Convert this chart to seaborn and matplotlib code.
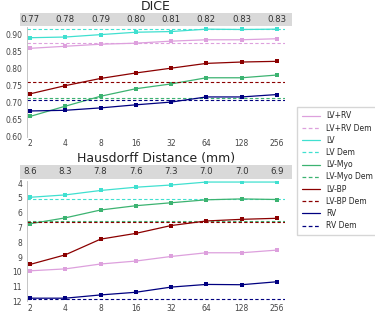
import numpy as np
import pandas as pd
import seaborn as sns
import matplotlib.pyplot as plt
from matplotlib.lines import Line2D
from matplotlib.transforms import blended_transform_factory

# Number of training subjects
n_train = [2, 4, 8, 16, 32, 64, 128, 256]
structures = ["LV+RV", "LV", "LV-Myo", "LV-BP", "RV"]
colors = {"LV+RV": "#dda0dd", "LV": "#40e0d0", "LV-Myo": "#3cb371",
          "LV-BP": "#8b0000", "RV": "#000080"}

# DICE per structure
dice = {
    "LV+RV": [0.859, 0.865, 0.871, 0.874, 0.880, 0.884, 0.884, 0.887],
    "LV": [0.890, 0.892, 0.899, 0.906, 0.908, 0.915, 0.914, 0.915],
    "LV-Myo": [0.660, 0.690, 0.719, 0.741, 0.755, 0.773, 0.773, 0.781],
    "LV-BP": [0.726, 0.750, 0.771, 0.787, 0.801, 0.815, 0.819, 0.821],
    "RV": [0.676, 0.678, 0.685, 0.694, 0.702, 0.717, 0.717, 0.724],
}
dice_dem = {"LV+RV": 0.876, "LV": 0.915, "LV-Myo": 0.715, "LV-BP": 0.762, "RV": 0.707}
dice_mean = ["0.77", "0.78", "0.79", "0.80", "0.81", "0.82", "0.83", "0.83"]

# Hausdorff distance (mm) per structure
hd = {
    "LV+RV": [9.93, 9.80, 9.47, 9.27, 8.96, 8.71, 8.71, 8.53],
    "LV": [4.96, 4.80, 4.50, 4.28, 4.13, 3.93, 3.93, 3.93],
    "LV-Myo": [6.75, 6.35, 5.82, 5.53, 5.33, 5.13, 5.07, 5.11],
    "LV-BP": [9.50, 8.85, 7.79, 7.40, 6.87, 6.56, 6.45, 6.38],
    "RV": [11.78, 11.78, 11.56, 11.38, 11.03, 10.85, 10.87, 10.67],
}
hd_dem = {"LV+RV": 12.5, "LV": 5.06, "LV-Myo": 6.57, "LV-BP": 6.60, "RV": 11.82}
hd_mean = ["8.6", "8.3", "7.8", "7.6", "7.3", "7.0", "7.0", "6.9"]

sns.set_style("white")
plt.rcParams["font.family"] = ["DejaVu Sans"]

fig = plt.figure(figsize=(3.75, 3.14), dpi=100)
dash = (0, (3, 2))


def panel(ax_rect, band_rect, values, dem, means, title, ylim, yticks, yfmt):
    ax = fig.add_axes(ax_rect)
    band = fig.add_axes(band_rect)
    for s in structures:
        df = pd.DataFrame({"n": n_train, "v": values[s]})
        sns.lineplot(data=df, x="n", y="v", ax=ax, color=colors[s], marker="s",
                     markersize=3.2, markeredgewidth=0, linewidth=0.9, legend=False)
        ax.axhline(dem[s], color=colors[s], ls=dash, lw=0.8)
    ax.set_xscale("log", base=2)
    ax.set_xlim(2 ** 0.915, 2 ** 8.23)
    ax.set_xticks(n_train)
    ax.set_xticklabels([str(n) for n in n_train])
    ax.set_ylim(*ylim)
    ax.set_yticks(yticks)
    ax.set_yticklabels([yfmt.format(t) for t in yticks])
    ax.tick_params(axis="both", labelsize=5.5, colors="#444444", length=0, pad=1.5)
    ax.tick_params(axis="y", length=2, color="#999999")
    ax.set_xlabel("")
    ax.set_ylabel("")
    for sp in ["top", "right", "bottom"]:
        ax.spines[sp].set_visible(False)
    ax.spines["left"].set_color("#bbbbbb")
    ax.spines["left"].set_linewidth(0.6)

    band.set_facecolor("#d9d9d9")
    band.set_xticks([])
    band.set_yticks([])
    for sp in band.spines.values():
        sp.set_visible(False)
    tr = blended_transform_factory(ax.transData, band.transAxes)
    for n, m in zip(n_train, means):
        band.text(n, 0.5, m, transform=tr, ha="center", va="center",
                  fontsize=6.2, color="#333333", clip_on=False)
    band.set_title(title, fontsize=9, pad=1.5, color="#222222")
    return ax


ax1 = panel([0.072, 0.5637, 0.688, 0.350], [0.053, 0.917, 0.725, 0.042],
            dice, dice_dem, dice_mean, "DICE", (0.60, 0.921),
            [0.60, 0.65, 0.70, 0.75, 0.80, 0.85, 0.90], "{:.2f}")
ax2 = panel([0.072, 0.04, 0.688, 0.384], [0.053, 0.430, 0.725, 0.045],
            hd, hd_dem, hd_mean, "Hausdorff Distance (mm)", (12, 3.85),
            list(range(4, 13)), "{}")

handles, labels = [], []
for s in structures:
    handles.append(Line2D([], [], color=colors[s], lw=0.9))
    labels.append(s)
    handles.append(Line2D([], [], color=colors[s], lw=0.9, ls=dash))
    labels.append(s + " Dem")
fig.legend(handles, labels, loc="upper left", bbox_to_anchor=(0.782, 0.672),
           fontsize=5.5, frameon=True, edgecolor="#cccccc", fancybox=False,
           handlelength=2.4, handletextpad=0.8, labelspacing=0.42, borderpad=0.6)

fig.savefig("out.png", dpi=100)
